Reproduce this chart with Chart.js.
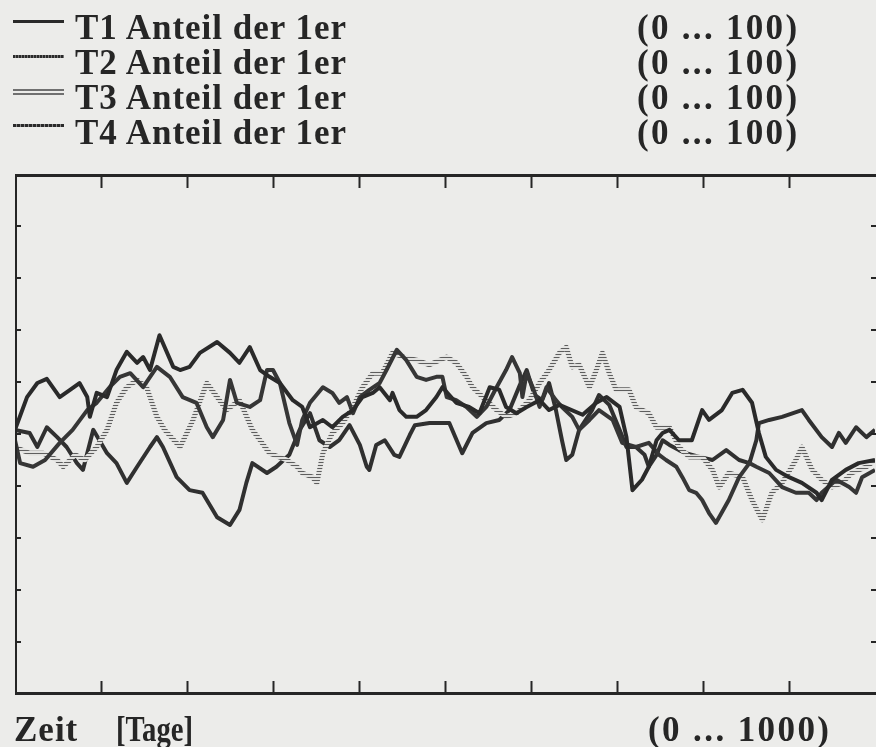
<!DOCTYPE html>
<html><head><meta charset="utf-8">
<script src="https://cdn.jsdelivr.net/npm/chart.js@4"></script>
<style>
html,body{margin:0;padding:0;background:#ececea;}
#wrap{position:relative;width:876px;height:747px;overflow:hidden;background:#ececea;}
#c{position:absolute;left:0;top:0;}
.t{position:absolute;font-family:"Liberation Serif","DejaVu Serif",serif;font-weight:bold;font-size:35px;line-height:35px;color:#262626;white-space:pre;letter-spacing:1px;transform-origin:0 0;}
.s{position:absolute;left:13px;width:51px;}
</style></head>
<body><div id="wrap"><canvas id="c" width="876" height="747"></canvas></div>
<script>
// ---- data (x = Zeit in Tagen, y = Anteil der 1er in %) ----
const seriesNames = ['T1 Anteil der 1er','T2 Anteil der 1er','T3 Anteil der 1er','T4 Anteil der 1er'];
const seriesRange = '(0 ... 100)';
const xTitle = 'Zeit', xUnit = '[Tage]', xRange = '(0 ... 1000)';
const xTicks = [100,200,300,400,500,600,700,800,900];
const yTicks = [10,20,30,40,50,60,70,80,90];

const t1Points = [[0,50.8],[14,57.1],[26,59.8],[37,60.6],[52,57.1],[64,58.5],[75,59.8],[84,57.1],[87,53.3],[95,57.9],[107,57.1],[118,62.3],[130,65.8],[142,63.7],[149,64.8],[157,62.3],[168,69.0],[184,62.9],[192,62.3],[203,62.9],[215,65.6],[235,67.7],[250,65.6],[261,63.7],[273,66.7],[285,62.3],[296,61.0],[308,59.8],[323,56.5],[334,55.2],[343,51.3],[358,52.7],[369,51.3],[381,53.3],[393,54.6],[404,57.1],[416,57.9],[424,59.0],[436,56.5],[439,57.9],[447,54.6],[455,53.3],[467,53.3],[478,54.6],[490,57.1],[497,59.0],[513,56.0],[528,55.2],[540,54.0],[552,59.0],[563,58.5],[571,55.2],[583,54.0],[595,55.2],[610,56.5],[621,54.6],[633,55.6],[660,53.7],[676,56.0],[688,57.1],[703,55.2],[711,49.4],[718,39.2],[729,41.2],[737,43.7],[746,48.8],[753,50.2],[761,50.8],[772,48.8],[787,48.8],[799,54.6],[807,52.7],[822,54.6],[834,57.9],[846,58.5],[857,56.0],[865,50.2],[873,45.6],[885,43.1],[900,41.7],[915,40.6],[932,38.7],[938,37.3],[950,41.2],[966,43.1],[981,44.4],[1000,45.0]];

const t2Points = [[0,48.8],[6,44.4],[21,43.7],[35,45.0],[52,48.3],[67,50.8],[84,54.6],[95,56.0],[110,59.0],[122,61.0],[134,61.7],[149,59.0],[165,62.9],[180,61.0],[195,57.1],[211,56.0],[223,51.3],[230,49.4],[242,52.7],[250,60.4],[258,56.0],[273,55.2],[285,56.5],[293,62.3],[300,62.3],[308,59.8],[319,52.1],[328,47.9],[334,52.7],[343,56.0],[358,59.0],[369,57.9],[377,56.0],[386,57.1],[393,54.0],[401,57.1],[412,58.5],[424,59.8],[432,62.3],[444,66.2],[455,64.2],[467,61.0],[478,60.4],[490,61.0],[497,61.0],[502,57.1],[513,56.5],[525,55.2],[537,53.3],[548,55.2],[560,59.0],[571,62.3],[578,64.8],[587,61.7],[590,57.1],[595,61.7],[602,59.0],[610,55.2],[618,59.0],[629,56.5],[636,55.2],[648,53.3],[656,50.8],[668,52.7],[679,54.6],[695,52.7],[706,48.3],[722,47.5],[737,48.3],[749,46.0],[757,45.0],[769,43.7],[776,41.7],[784,39.2],[792,38.7],[799,37.3],[807,34.8],[815,32.9],[830,37.3],[842,41.7],[854,44.4],[862,43.7],[877,42.5],[892,39.8],[908,38.7],[923,38.7],[932,37.3],[938,38.7],[955,41.2],[970,39.8],[978,38.7],[985,41.7],[1000,43.1]];

const t3Points = [[0,47.5],[17,46.3],[33,46.3],[49,45.0],[56,43.7],[70,46.0],[81,45.0],[95,47.5],[107,50.8],[118,56.0],[130,59.0],[142,60.4],[153,59.0],[165,53.3],[174,50.8],[192,47.5],[207,52.7],[223,59.8],[235,57.1],[246,54.6],[261,56.5],[276,50.8],[296,46.3],[316,45.0],[328,43.7],[334,42.5],[346,41.7],[351,40.6],[358,46.3],[369,50.2],[381,52.1],[393,55.2],[404,59.0],[416,61.7],[427,61.7],[439,65.6],[451,64.8],[467,64.2],[482,63.3],[502,64.8],[513,63.7],[525,61.0],[532,59.0],[544,57.1],[560,54.6],[571,53.3],[583,54.0],[598,56.5],[610,59.8],[621,62.3],[633,65.6],[641,66.7],[648,62.9],[656,63.3],[668,59.0],[676,62.3],[683,65.6],[691,61.7],[699,58.5],[714,58.5],[722,55.2],[737,54.0],[746,51.3],[761,51.3],[772,47.5],[784,45.6],[799,45.6],[811,43.1],[819,39.8],[830,42.5],[846,41.7],[857,37.3],[869,33.5],[880,38.7],[892,40.6],[908,45.0],[915,47.5],[927,43.1],[938,41.2],[950,39.8],[962,40.6],[973,42.5],[990,43.7],[1000,45.0]];

const t4Points = [[0,50.8],[17,50.2],[26,47.5],[37,51.3],[49,49.4],[60,47.5],[72,44.4],[79,43.1],[91,50.8],[107,46.3],[118,44.4],[130,40.6],[142,43.7],[157,47.5],[165,49.4],[172,47.5],[188,41.7],[203,39.2],[218,38.7],[235,34.0],[250,32.5],[261,35.4],[269,40.6],[276,44.4],[293,42.5],[304,43.7],[319,46.0],[331,50.8],[343,54.0],[354,48.8],[366,47.5],[377,48.8],[389,51.7],[401,47.9],[409,43.7],[412,43.1],[420,47.9],[430,48.8],[441,46.0],[447,45.6],[459,49.8],[465,51.7],[482,52.1],[505,52.1],[520,46.3],[532,50.2],[548,52.1],[563,52.7],[575,54.6],[587,59.4],[595,62.3],[604,57.5],[613,56.5],[621,59.8],[629,54.6],[636,48.8],[641,45.0],[648,46.0],[656,50.8],[671,54.6],[679,57.5],[691,55.6],[703,50.8],[711,47.5],[722,47.5],[732,46.0],[737,43.7],[746,46.0],[753,48.8],[761,47.9],[772,46.9],[780,46.3],[796,45.6],[811,45.0],[827,46.9],[842,45.0],[854,44.4],[862,48.8],[865,52.1],[877,52.7],[892,53.3],[915,54.6],[923,52.7],[938,49.4],[950,47.5],[958,50.2],[966,48.3],[978,51.3],[990,49.4],[1000,50.8]];

// ---- text (real DOM text) ----
const wrap = document.getElementById('wrap');
function addText(str, left, top, extra){
  const d = document.createElement('div');
  d.className = 't'; d.textContent = str;
  d.style.left = left + 'px'; d.style.top = top + 'px';
  if (extra) d.style.cssText += extra;
  wrap.appendChild(d);
}
const sampleStyles = [
  'height:0;border-top:3px solid #2a2a2a;',
  'height:3px;background:repeating-linear-gradient(90deg,#2a2a2a 0 2px,#777 2px 3px);',
  'height:2px;border-top:2px solid #707070;border-bottom:2px solid #707070;',
  'height:3px;background:repeating-linear-gradient(90deg,#2a2a2a 0 3px,#8a8a8a 3px 4px);'
];
seriesNames.forEach((n,i)=>{
  const top = 10 + i*35;
  addText(n, 75, top);
  addText(seriesRange, 637, top, 'letter-spacing:2.3px;');
  const s = document.createElement('div');
  s.className = 's';
  s.style.cssText += 'top:' + (20 + i*34.5) + 'px;' + sampleStyles[i];
  wrap.appendChild(s);
});
addText(xTitle, 14, 712);
addText(xUnit, 116, 712, 'transform:scaleX(0.82);letter-spacing:0;');
addText(xRange, 648, 712, 'letter-spacing:2.4px;');

// ---- chart ----
const canvas = document.getElementById('c');
const ctx = canvas.getContext('2d');
const pc = document.createElement('canvas'); pc.width = 2; pc.height = 3;
const pctx = pc.getContext('2d');
pctx.fillStyle = '#e2e2e0'; pctx.fillRect(0,0,2,3);
pctx.fillStyle = '#5e5e5e'; pctx.fillRect(0,0,2,1);
const hatch = ctx.createPattern(pc, 'repeat');

const toXY = pts => pts.map(p => ({x:p[0], y:p[1]}));

const framePlugin = {
  id:'frame',
  afterDatasetsDraw(chart){
    const {ctx, chartArea:a, scales:{x, y}} = chart;
    ctx.save();
    ctx.strokeStyle = '#262626';
    ctx.lineCap = 'butt';
    ctx.lineWidth = 3;
    ctx.beginPath();
    ctx.moveTo(a.left, a.top + 1.5); ctx.lineTo(a.right + 2, a.top + 1.5);
    ctx.moveTo(a.left, a.bottom - 0.5); ctx.lineTo(a.right + 2, a.bottom - 0.5);
    ctx.stroke();
    ctx.lineWidth = 2;
    ctx.beginPath();
    ctx.moveTo(a.left + 1, a.top); ctx.lineTo(a.left + 1, a.bottom + 1);
    ctx.stroke();
    ctx.lineWidth = 2;
    ctx.beginPath();
    xTicks.forEach(v => {
      const px = Math.round(x.getPixelForValue(v)) + 0.5;
      ctx.moveTo(px, a.top); ctx.lineTo(px, a.top + 14);
      ctx.moveTo(px, a.bottom); ctx.lineTo(px, a.bottom - 13);
    });
    yTicks.forEach(v => {
      const py = Math.round(y.getPixelForValue(v));
      ctx.moveTo(a.left, py); ctx.lineTo(a.left + 6, py);
      ctx.moveTo(a.right + 1, py); ctx.lineTo(a.right - 4, py);
    });
    ctx.stroke();
    ctx.restore();
  }
};

new Chart(ctx, {
  type:'line',
  data:{
    datasets:[
      {label:seriesNames[0], data:toXY(t1Points), borderColor:'#2a2a2a', borderWidth:4},
      {label:seriesNames[1], data:toXY(t2Points), borderColor:'#363636', borderWidth:4},
      {label:seriesNames[2], data:toXY(t3Points), borderColor:hatch, borderWidth:5},
      {label:seriesNames[3], data:toXY(t4Points), borderColor:'#303030', borderWidth:4}
    ]
  },
  options:{
    responsive:false,
    animation:false,
    layout:{padding:{left:15, top:174, right:1, bottom:53}},
    plugins:{legend:{display:false}, tooltip:{enabled:false}},
    elements:{point:{radius:0}, line:{tension:0, borderJoinStyle:'round'}},
    scales:{
      x:{type:'linear', min:0, max:1000, display:false},
      y:{type:'linear', min:0, max:100, display:false}
    }
  },
  plugins:[framePlugin]
});
</script>
</body></html>
